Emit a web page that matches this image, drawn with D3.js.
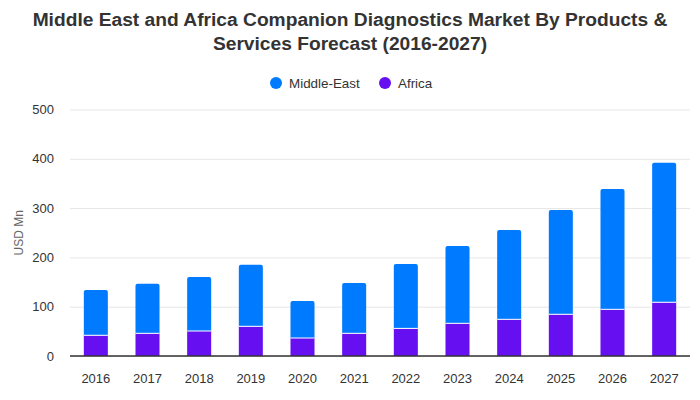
<!DOCTYPE html>
<html>
<head>
<meta charset="utf-8">
<script src="https://cdn.jsdelivr.net/npm/d3@7"></script>
<style>
  html, body { margin: 0; padding: 0; background: #fff; }
  svg { display: block; }
  text { font-family: "Liberation Sans", Arial, sans-serif; }
</style>
</head>
<body>
<svg id="chart" width="700" height="400"></svg>
<script>
const years = ["2016","2017","2018","2019","2020","2021","2022","2023","2024","2025","2026","2027"];
const middleEast = [92, 100.7, 109.3, 124.8, 75, 102, 130.6, 156.7, 181, 211.4, 244, 283];
const africa = [42, 46, 50.7, 60.2, 36.5, 46, 56, 66.3, 74.4, 84.6, 94.7, 109];
const seriesNames = ["Middle-East", "Africa"];
const seriesColors = ["#007bff", "#6610f2"];
const yTicks = [0, 100, 200, 300, 400, 500];
const titleLines = ["Middle East and Africa Companion Diagnostics Market By Products &", "Services Forecast (2016-2027)"];
const yTitle = "USD Mn";

const svg = d3.select("#chart");
const margin = {left: 70, right: 10, top: 109.5, bottom: 44};
const W = 700, H = 400;

const x = d3.scaleBand().domain(years).range([margin.left, W - margin.right]).paddingInner(0.535).paddingOuter(0.2675);
const y = d3.scaleLinear().domain([0, 500]).range([H - margin.bottom, margin.top]);

// title
svg.append("g").selectAll("text").data(titleLines).join("text")
  .attr("x", 350).attr("y", (d, i) => 25.5 + i * 24)
  .attr("text-anchor", "middle")
  .attr("font-size", 19.2).attr("font-weight", "bold").attr("fill", "#333")
  .text(d => d);

// legend
const legend = svg.append("g");
const legendX = [276, 385];
seriesNames.forEach((n, i) => {
  legend.append("circle").attr("cx", legendX[i]).attr("cy", 83).attr("r", 6).attr("fill", seriesColors[i]);
  legend.append("text").attr("x", legendX[i] + 13).attr("y", 87.5)
    .attr("font-size", 13.4).attr("fill", "#333").text(n);
});

// grid
const yAxis = d3.axisLeft(y).tickValues(yTicks).tickSize(-(W - margin.left - margin.right)).tickPadding(16);
const gy = svg.append("g").attr("transform", `translate(${margin.left},0)`).call(yAxis);
gy.select(".domain").remove();
gy.selectAll(".tick line").attr("stroke", "#e6e6e6").attr("stroke-width", 1);
gy.selectAll(".tick text").attr("font-size", 13).attr("fill", "#333").attr("font-family", "Liberation Sans, Arial, sans-serif");

// bars
const stackData = years.map((yr, i) => ({year: yr, africa: africa[i], middleEast: middleEast[i]}));
const stack = d3.stack().keys(["africa", "middleEast"])(stackData);
const keyColor = {africa: seriesColors[1], middleEast: seriesColors[0]};
const r = 2;
stack.forEach(layer => {
  const g = svg.append("g");
  layer.forEach(d => {
    const x0 = x(d.data.year), bw = x.bandwidth();
    const yTop = y(d[1]), yBot = y(d[0]);
    let path;
    if (layer.key === "middleEast") {
      path = `M${x0},${yBot} V${yTop + r} Q${x0},${yTop} ${x0 + r},${yTop} H${x0 + bw - r} Q${x0 + bw},${yTop} ${x0 + bw},${yTop + r} V${yBot} Z`;
    } else {
      path = `M${x0},${yBot} V${yTop} H${x0 + bw} V${yBot} Z`;
    }
    g.append("path").attr("d", path).attr("fill", keyColor[layer.key]);
  });
});
// white separators between stacks
svg.append("g").selectAll("line").data(stackData).join("line")
  .attr("x1", d => x(d.year)).attr("x2", d => x(d.year) + x.bandwidth())
  .attr("y1", d => y(d.africa)).attr("y2", d => y(d.africa))
  .attr("stroke", "#fff").attr("stroke-width", 1);

// x axis
const xAxis = d3.axisBottom(x).tickSize(0).tickPadding(17.5);
const gx = svg.append("g").attr("transform", `translate(0,${y(0)})`).call(xAxis);
gx.select(".domain").attr("stroke", "#333").attr("stroke-width", 1.5).attr("d", `M${margin.left},0H${W - margin.right}`);
gx.selectAll(".tick text").attr("font-size", 13).attr("fill", "#333").attr("font-family", "Liberation Sans, Arial, sans-serif");

// y title
svg.append("text").attr("transform", `translate(23,${(y(0) + y(500)) / 2 + 0}) rotate(-90)`)
  .attr("text-anchor", "middle").attr("font-size", 12).attr("fill", "#666").text(yTitle);
</script>
</body>
</html>
